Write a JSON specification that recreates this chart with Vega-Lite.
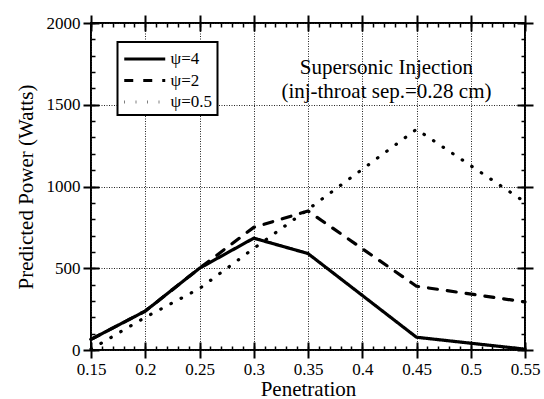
{
  "$schema": "https://vega.github.io/schema/vega-lite/v6.json",
  "width": 434,
  "height": 327,
  "padding": {"left": 15, "top": 14, "right": 10, "bottom": 0},
  "background": "white",
  "config": {
    "view": {"stroke": "black", "strokeWidth": 2},
    "font": "Liberation Serif",
    "axis": {"labelFont": "Liberation Serif", "titleFont": "Liberation Serif", "labelColor": "black", "titleColor": "black", "titleFontWeight": "normal"},
    "legend": {"strokeWidth": 2}
  },
  "data": {"values": [
    {"p": 0.15, "w": 65, "s": "ψ=4"},
    {"p": 0.2, "w": 238, "s": "ψ=4"},
    {"p": 0.25, "w": 500, "s": "ψ=4"},
    {"p": 0.3, "w": 684, "s": "ψ=4"},
    {"p": 0.35, "w": 590, "s": "ψ=4"},
    {"p": 0.45, "w": 78, "s": "ψ=4"},
    {"p": 0.55, "w": 5, "s": "ψ=4"},
    {"p": 0.15, "w": 65, "s": "ψ=2"},
    {"p": 0.2, "w": 238, "s": "ψ=2"},
    {"p": 0.25, "w": 500, "s": "ψ=2"},
    {"p": 0.3, "w": 750, "s": "ψ=2"},
    {"p": 0.35, "w": 850, "s": "ψ=2"},
    {"p": 0.45, "w": 390, "s": "ψ=2"},
    {"p": 0.55, "w": 294, "s": "ψ=2"},
    {"p": 0.15, "w": 5, "s": "ψ=0.5"},
    {"p": 0.2, "w": 200, "s": "ψ=0.5"},
    {"p": 0.25, "w": 376, "s": "ψ=0.5"},
    {"p": 0.3, "w": 621, "s": "ψ=0.5"},
    {"p": 0.35, "w": 860, "s": "ψ=0.5"},
    {"p": 0.45, "w": 1350, "s": "ψ=0.5"},
    {"p": 0.55, "w": 905, "s": "ψ=0.5"}
  ]},
  "resolve": {"scale": {"x": "independent", "y": "independent"}, "axis": {"x": "independent", "y": "independent"}},
  "layer": [
    {
      "mark": {"type": "line", "color": "black", "strokeWidth": 3.2, "strokeCap": "round", "strokeJoin": "round"},
      "encoding": {
        "x": {"field": "p", "type": "quantitative", "scale": {"domain": [0.15, 0.55], "nice": false, "zero": false},
          "axis": {"orient": "bottom", "values": [0.15, 0.2, 0.25, 0.3, 0.35, 0.4, 0.45, 0.5, 0.55], "format": "~g", "title": "Penetration", "titleFontSize": 21, "titlePadding": 1, "labelFontSize": 17, "labelPadding": 3, "domain": false, "ticks": true, "tickColor": "black", "tickSize": 8, "tickWidth": 2, "grid": true, "gridDash": [1, 1.5], "gridColor": "#222", "gridWidth": 1, "labelFlush": false}},
        "y": {"field": "w", "type": "quantitative", "scale": {"domain": [0, 2000], "nice": false},
          "axis": {"orient": "left", "values": [0, 500, 1000, 1500, 2000], "format": "d", "title": "Predicted Power (Watts)", "titleFontSize": 21, "titlePadding": 10, "labelFontSize": 17, "labelPadding": 3, "domain": false, "ticks": true, "tickColor": "black", "tickSize": 8, "tickWidth": 2, "grid": true, "gridDash": [1, 1.5], "gridColor": "#222", "gridWidth": 1, "labelFlush": false}},
        "strokeDash": {"field": "s", "type": "nominal",
          "scale": {"domain": ["ψ=4", "ψ=2", "ψ=0.5"], "range": [[1, 0], [9, 10], [0.5, 11]]},
          "legend": {"orient": "none", "legendX": 26.5, "legendY": 19, "title": null, "strokeColor": "black", "fillColor": "white", "padding": 5, "rowPadding": 1.5, "symbolType": "M-1,0H3", "symbolSize": 420, "symbolStrokeWidth": 3.2, "symbolStrokeColor": "black", "labelFontSize": 17, "labelFont": "Liberation Serif", "labelOffset": 24, "labelColor": "black"}}
      }
    },
    {
      "mark": {"type": "point", "opacity": 0},
      "encoding": {
        "x": {"field": "p", "type": "quantitative", "scale": {"domain": [0.15, 0.55], "nice": false, "zero": false},
          "axis": {"orient": "bottom", "values": [0.15, 0.16, 0.17, 0.18, 0.19, 0.2, 0.21, 0.22, 0.23, 0.24, 0.25, 0.26, 0.27, 0.28, 0.29, 0.3, 0.31, 0.32, 0.33, 0.34, 0.35, 0.36, 0.37, 0.38, 0.39, 0.4, 0.41, 0.42, 0.43, 0.44, 0.45, 0.46, 0.47, 0.48, 0.49, 0.5, 0.51, 0.52, 0.53, 0.54, 0.55], "labels": false, "title": null, "grid": false, "domain": false, "ticks": true, "tickColor": "black", "tickSize": 4, "tickWidth": 1.5, "offset": -4}},
        "y": {"field": "w", "type": "quantitative", "scale": {"domain": [0, 2000], "nice": false},
          "axis": {"orient": "left", "values": [0, 100, 200, 300, 400, 500, 600, 700, 800, 900, 1000, 1100, 1200, 1300, 1400, 1500, 1600, 1700, 1800, 1900, 2000], "labels": false, "title": null, "grid": false, "domain": false, "ticks": true, "tickColor": "black", "tickSize": 4, "tickWidth": 1.5, "offset": -4}}
      }
    },
    {
      "mark": {"type": "point", "opacity": 0},
      "encoding": {
        "x": {"field": "p", "type": "quantitative", "scale": {"domain": [0.15, 0.55], "nice": false, "zero": false},
          "axis": {"orient": "top", "values": [0.15, 0.16, 0.17, 0.18, 0.19, 0.2, 0.21, 0.22, 0.23, 0.24, 0.25, 0.26, 0.27, 0.28, 0.29, 0.3, 0.31, 0.32, 0.33, 0.34, 0.35, 0.36, 0.37, 0.38, 0.39, 0.4, 0.41, 0.42, 0.43, 0.44, 0.45, 0.46, 0.47, 0.48, 0.49, 0.5, 0.51, 0.52, 0.53, 0.54, 0.55], "labels": false, "title": null, "grid": false, "domain": false, "ticks": true, "tickColor": "black", "tickSize": 4, "tickWidth": 1.5, "offset": -4}},
        "y": {"field": "w", "type": "quantitative", "scale": {"domain": [0, 2000], "nice": false},
          "axis": {"orient": "right", "values": [0, 100, 200, 300, 400, 500, 600, 700, 800, 900, 1000, 1100, 1200, 1300, 1400, 1500, 1600, 1700, 1800, 1900, 2000], "labels": false, "title": null, "grid": false, "domain": false, "ticks": true, "tickColor": "black", "tickSize": 4, "tickWidth": 1.5, "offset": -4}}
      }
    },
    {
      "mark": {"type": "point", "opacity": 0},
      "encoding": {
        "x": {"field": "p", "type": "quantitative", "scale": {"domain": [0.15, 0.55], "nice": false, "zero": false},
          "axis": {"orient": "top", "values": [0.15, 0.2, 0.25, 0.3, 0.35, 0.4, 0.45, 0.5, 0.55], "labels": false, "title": null, "grid": false, "domain": false, "ticks": true, "tickColor": "black", "tickSize": 16, "tickWidth": 2, "offset": -8}},
        "y": {"field": "w", "type": "quantitative", "scale": {"domain": [0, 2000], "nice": false},
          "axis": {"orient": "right", "values": [0, 500, 1000, 1500, 2000], "labels": false, "title": null, "grid": false, "domain": false, "ticks": true, "tickColor": "black", "tickSize": 16, "tickWidth": 2, "offset": -8}}
      }
    },
    {
      "mark": {"type": "point", "opacity": 0},
      "encoding": {
        "x": {"field": "p", "type": "quantitative", "scale": {"domain": [0.15, 0.55], "nice": false, "zero": false},
          "axis": {"orient": "bottom", "values": [0.15, 0.2, 0.25, 0.3, 0.35, 0.4, 0.45, 0.5, 0.55], "labels": false, "title": null, "grid": false, "domain": false, "ticks": true, "tickColor": "black", "tickSize": 8, "tickWidth": 2, "offset": -8}},
        "y": {"field": "w", "type": "quantitative", "scale": {"domain": [0, 2000], "nice": false},
          "axis": {"orient": "left", "values": [0, 500, 1000, 1500, 2000], "labels": false, "title": null, "grid": false, "domain": false, "ticks": true, "tickColor": "black", "tickSize": 8, "tickWidth": 2, "offset": -8}}
      }
    },
    {
      "data": {"values": [{"note": "Supersonic Injection"}]},
      "mark": {"type": "text", "font": "Liberation Serif", "fontSize": 21, "fill": "black", "align": "center", "baseline": "middle", "lineHeight": 24},
      "encoding": {
        "x": {"datum": 0.4223, "type": "quantitative", "scale": {"domain": [0.15, 0.55], "nice": false, "zero": false}, "axis": null},
        "y": {"datum": 1725, "type": "quantitative", "scale": {"domain": [0, 2000], "nice": false}, "axis": null},
        "text": {"value": ["Supersonic Injection", "(inj-throat sep.=0.28 cm)"]}
      }
    }
  ]
}
